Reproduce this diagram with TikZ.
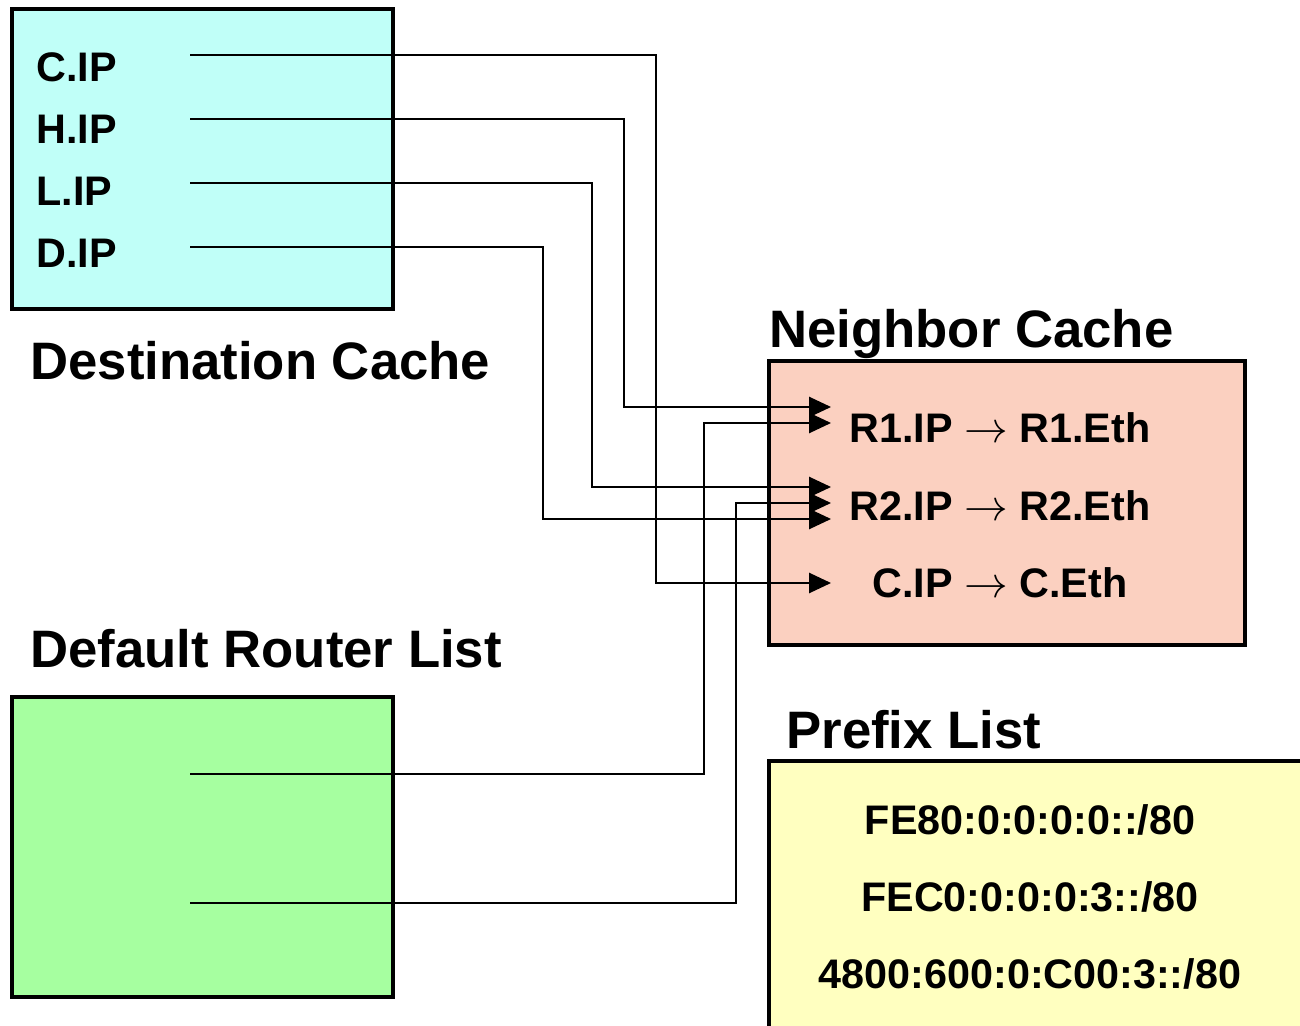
\documentclass[tikz,border=0pt]{standalone}
\usepackage{fontspec}
\setmainfont{Liberation Sans}
\usetikzlibrary{positioning,calc,arrows.meta}

\definecolor{destcol}{HTML}{C0FFF8}
\definecolor{neighcol}{HTML}{FBD0C0}
\definecolor{routecol}{HTML}{A6FFA0}
\definecolor{prefcol}{HTML}{FFFFC0}

\begin{document}
\begin{tikzpicture}[x=0.02cm,y=-0.02cm,
   box/.style={draw, line width=2.3pt, inner sep=0pt},
   entry/.style={font=\fontsize{23.5}{28}\selectfont\bfseries, inner sep=0pt, anchor=base},
   title/.style={font=\fontsize{30}{36}\selectfont\bfseries, inner sep=0pt, anchor=base west},
   link/.style={line width=1.1pt},
   tip/.style={link, -{Triangle[length=12.5pt,width=11.5pt]}}]

\useasboundingbox (0,0) rectangle (1300,1026);
\clip (0,0) rectangle (1300,1026);

% Tables
\node[box, fill=destcol, minimum width=7.62cm, minimum height=6cm] (dest) at (202.5,159) {};
\node[box, fill=routecol, minimum width=7.62cm, minimum height=6cm] (router) at (202.5,847) {};
\node[box, fill=neighcol, minimum width=9.52cm, minimum height=5.68cm] (neigh) at (1007,503) {};
\node[box, fill=prefcol, minimum width=11.42cm, minimum height=5.98cm] (prefix) at (1054.5,910.5) {};

\node[title] (desttitle) at (30,380) {Destination Cache};
\node[title] (routetitle) at (30,667) {Default Router List};
\node[title] (neightitle) at (769,348) {Neighbor Cache};
\node[title] (preftitle) at (786,748) {Prefix List};

% Destination cache entries
\node[entry, anchor=base west] (cip) at (36,82) {C.IP};
\node[entry, anchor=base west] (hip) at (36,144) {H.IP};
\node[entry, anchor=base west] (lip) at (36,206) {L.IP};
\node[entry, anchor=base west] (dip) at (36,268) {D.IP};

% Neighbor cache entries
\node[entry] (r1) at (1000,442) {R1.IP $\rightarrow$ R1.Eth};
\node[entry] (r2) at (1000,520) {R2.IP $\rightarrow$ R2.Eth};
\node[entry] (cn) at (1000,597) {C.IP $\rightarrow$ C.Eth};

% Prefix list entries
\node[entry] (pfx1) at (1030,834) {FE80:0:0:0:0::/80};
\node[entry] (pfx2) at (1030,911) {FEC0:0:0:0:3::/80};
\node[entry] (pfx3) at (1030,988) {4800:600:0:C00:3::/80};

% Line ends
\coordinate (cipout) at (190,55);
\coordinate (hipout) at (190,119);
\coordinate (lipout) at (190,183);
\coordinate (dipout) at (190,247);
\coordinate (rt1out) at (190,774);
\coordinate (rt2out) at (190,903);

\coordinate (r1a) at (831,407);
\coordinate (r1b) at (831,423);
\coordinate (r2a) at (831,487);
\coordinate (r2b) at (831,503);
\coordinate (r2c) at (831,519);
\coordinate (cna) at (831,583);

% Connecting Arrows
\draw[tip] (cipout) -- ++(466,0) |- (cna);
\draw[tip] (hipout) -- ++(434,0) |- (r1a);
\draw[tip] (lipout) -- ++(402,0) |- (r2a);
\draw[tip] (dipout) -- ++(353,0) |- (r2c);
\draw[tip] (rt1out) -- ++(514,0) |- (r1b);
\draw[tip] (rt2out) -- ++(546,0) |- (r2b);

\end{tikzpicture}
\end{document}
